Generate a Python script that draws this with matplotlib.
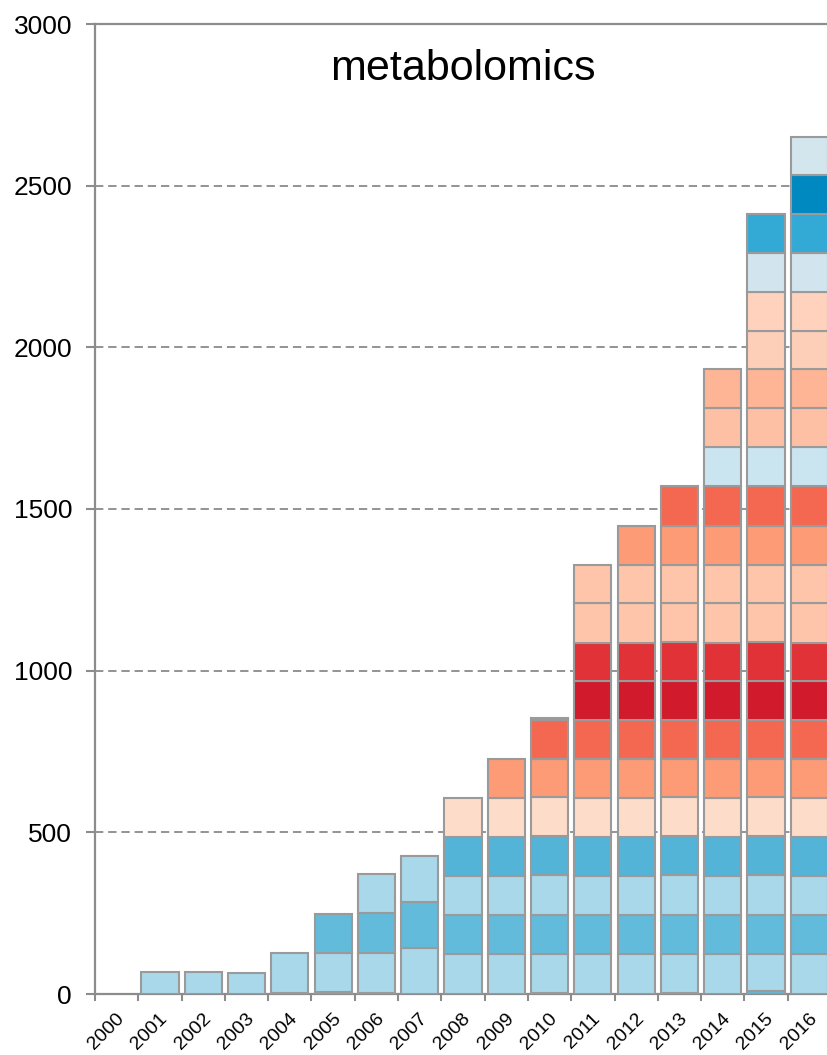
import matplotlib
matplotlib.use("Agg")
import matplotlib.pyplot as plt
from matplotlib.transforms import ScaledTranslation
import numpy as np

plt.rcParams['font.family'] = ['Liberation Sans', 'DejaVu Sans']
plt.rcParams['lines.scale_dashes'] = False

years = [str(y) for y in range(2000, 2017)]

# stacked layers, bottom to top (values per year 2000..2016)
layer_tiny   = [0, 0, 0, 0, 4, 5, 3, 0, 0, 0, 3, 0, 0, 3, 0, 8, 0]
layer_01     = [0, 67, 67, 64, 122, 121, 124, 143, 123, 123, 121, 123, 123, 121, 123, 116, 123]
layer_02     = [0, 0, 0, 0, 0, 121, 123, 142, 121, 121, 121, 121, 121, 121, 121, 121, 121]
layer_03     = [0, 0, 0, 0, 0, 0, 121, 143, 122, 122, 122, 122, 122, 122, 122, 122, 122]
layer_04     = [0, 0, 0, 0, 0, 0, 0, 0, 121, 121, 121, 121, 121, 121, 121, 121, 121]
layer_05     = [0, 0, 0, 0, 0, 0, 0, 0, 120, 120, 120, 120, 120, 120, 120, 120, 120]
layer_06     = [0, 0, 0, 0, 0, 0, 0, 0, 0, 119, 119, 119, 119, 119, 119, 119, 119]
layer_07     = [0, 0, 0, 0, 0, 0, 0, 0, 0, 0, 121, 121, 121, 121, 121, 121, 121]
layer_08     = [0, 0, 0, 0, 0, 0, 0, 0, 0, 0, 6, 120, 120, 120, 120, 120, 120]
layer_09     = [0, 0, 0, 0, 0, 0, 0, 0, 0, 0, 0, 120, 120, 120, 120, 120, 120]
layer_10     = [0, 0, 0, 0, 0, 0, 0, 0, 0, 0, 0, 121, 121, 121, 121, 121, 121]
layer_11     = [0, 0, 0, 0, 0, 0, 0, 0, 0, 0, 0, 119, 119, 119, 119, 119, 119]
layer_12     = [0, 0, 0, 0, 0, 0, 0, 0, 0, 0, 0, 0, 120, 120, 120, 120, 120]
layer_13     = [0, 0, 0, 0, 0, 0, 0, 0, 0, 0, 0, 0, 0, 124, 124, 124, 124]
layer_14     = [0, 0, 0, 0, 0, 0, 0, 0, 0, 0, 0, 0, 0, 0, 120, 120, 120]
layer_15     = [0, 0, 0, 0, 0, 0, 0, 0, 0, 0, 0, 0, 0, 0, 120, 120, 120]
layer_16     = [0, 0, 0, 0, 0, 0, 0, 0, 0, 0, 0, 0, 0, 0, 121, 121, 121]
layer_17     = [0, 0, 0, 0, 0, 0, 0, 0, 0, 0, 0, 0, 0, 0, 0, 119, 119]
layer_18     = [0, 0, 0, 0, 0, 0, 0, 0, 0, 0, 0, 0, 0, 0, 0, 119, 119]
layer_19     = [0, 0, 0, 0, 0, 0, 0, 0, 0, 0, 0, 0, 0, 0, 0, 121, 121]
layer_20     = [0, 0, 0, 0, 0, 0, 0, 0, 0, 0, 0, 0, 0, 0, 0, 119, 121]
layer_21     = [0, 0, 0, 0, 0, 0, 0, 0, 0, 0, 0, 0, 0, 0, 0, 0, 121]
layer_22     = [0, 0, 0, 0, 0, 0, 0, 0, 0, 0, 0, 0, 0, 0, 0, 0, 119]

layers = [layer_tiny, layer_01, layer_02, layer_03, layer_04, layer_05, layer_06,
          layer_07, layer_08, layer_09, layer_10, layer_11, layer_12, layer_13,
          layer_14, layer_15, layer_16, layer_17, layer_18, layer_19, layer_20,
          layer_21, layer_22]

layer_colors = ['#5fbadb', '#a8d8ea', '#62bbdb', '#a8d8ea', '#53b4d8', '#fddcca',
                '#fc9b76', '#f46852', '#d11a2c', '#e03237', '#fec5aa', '#fec5aa',
                '#fc9b76', '#f46852', '#cbe5f0', '#fec0a4', '#fdb596', '#fecfb8',
                '#fed2bc', '#d2e5ee', '#33aad5', '#0088c0', '#d3e5ed']

title_text = 'metabolomics'
yticks = [0, 500, 1000, 1500, 2000, 2500, 3000]

fig = plt.figure(figsize=(8.28, 10.55), dpi=100)
ax = fig.add_axes([95 / 828, 1 - 994 / 1055, 736 / 828, 970 / 1055])

x = np.arange(len(years))
bottom = np.zeros(len(years))
for vals, col in zip(layers, layer_colors):
    v = np.array(vals, dtype=float)
    m = v > 0
    ax.bar(x[m], v[m], bottom=bottom[m], width=0.86, color=col, edgecolor='#9a9a9a',
           linewidth=1.5, zorder=3)
    bottom += v

ax.set_xlim(-0.5, len(years) - 0.5)
ax.set_ylim(0, 3000)

# grid
for yv in yticks[1:-1]:
    ax.axhline(yv, color='#8a8a8a', linewidth=1.3, linestyle=(0, (6, 3.5)), zorder=1)

ax.spines['right'].set_visible(False)
for side in ['left', 'bottom', 'top']:
    ax.spines[side].set_color('#8c8c8c')
    ax.spines[side].set_linewidth(1.6)

ax.set_yticks(yticks)
ax.set_yticklabels([str(t) for t in yticks], fontsize=19)
ax.tick_params(axis='y', length=6.5, width=1.5, color='#8c8c8c', pad=10)

ax.set_xticks(x)
ax.set_xticklabels(years, fontsize=14, rotation=45, ha='right', va='center',
                   rotation_mode='anchor')
ax.tick_params(axis='x', length=0, pad=16)
offset = ScaledTranslation(5 / 100, 0, fig.dpi_scale_trans)
for lab in ax.get_xticklabels():
    lab.set_transform(lab.get_transform() + offset)
ax.set_xticks(np.arange(-0.5, len(years), 1.0), minor=True)
ax.tick_params(axis='x', which='minor', length=5, width=1.5, color='#8c8c8c')

ax.text(0.5, 0.954, title_text, transform=ax.transAxes, ha='center', va='center',
        fontsize=31, color='black')

fig.savefig('out.png', dpi=100)
